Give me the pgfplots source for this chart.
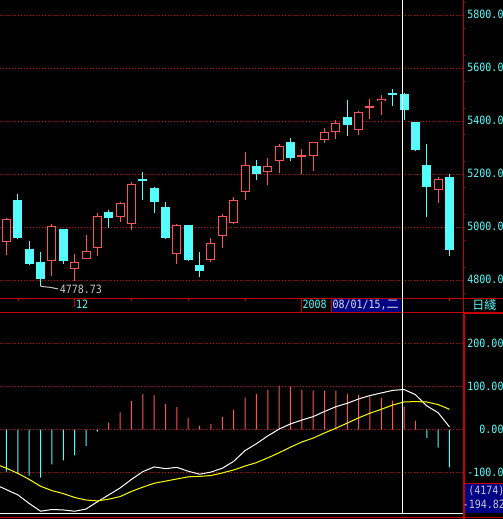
\documentclass[border=0pt]{standalone}
\usepackage{pgfplots}
\pgfplotsset{compat=1.18}
\usepackage{pgfplotstable}
\usepackage{fontspec}
\newfontfamily\monof{DejaVu Sans Mono}[FakeStretch=0.875]
\newfontfamily\cjkf{Noto Sans CJK TC}
\newcommand\mf{\monof\fontsize{11.4bp}{12bp}\selectfont}
\newcommand\cf{\cjkf\fontsize{12bp}{14bp}\selectfont}
\definecolor{cy}{RGB}{84,252,252}
\definecolor{rd}{RGB}{255,84,84}
\definecolor{gr}{RGB}{200,0,0}
\definecolor{gd}{RGB}{235,0,0}
\definecolor{nv}{RGB}{0,0,132}
\definecolor{lg}{RGB}{200,200,200}
\definecolor{yl}{RGB}{255,255,0}

% rising (red, hollow) candles
\pgfplotstableread{
i o h l c
0 4946 5034 4896 5031
4 4872 5013 4816 5004
6 4842 4899 4800 4868
7 4883 4971 4883 4913
8 4921 5053 4893 5042
10 5040 5096 5021 5092
11 5014 5171 4991 5164
15 4901 5013 4863 5008
18 4878 4960 4870 4940
19 4969 5050 4923 5042
20 5018 5115 5014 5102
21 5135 5284 5104 5234
23 5210 5262 5161 5234
24 5252 5317 5206 5309
26 5268 5296 5203 5273
27 5270 5321 5214 5321
28 5332 5375 5320 5362
29 5362 5405 5335 5393
31 5369 5439 5350 5434
32 5452 5484 5410 5457
33 5476 5499 5424 5484
38 5141 5189 5092 5182
}\up
% falling (cyan, filled) candles
\pgfplotstableread{
i o h l c
1 5103 5126 4955 4961
2 4918 4948 4858 4863
3 4869 4907 4778.73 4806
5 4994 4994 4863 4874
9 5058 5065 4999 5037
12 5182 5209 5103 5176
13 5148 5152 5055 5097
14 5077 5096 4957 4961
16 5008 5008 4874 4878
17 4857 4907 4814 4836
22 5234 5254 5179 5203
25 5322 5337 5252 5263
30 5416 5481 5346 5387
34 5506 5522 5458 5499
35 5503 5507 5405 5444
36 5398 5398 5289 5292
37 5237 5315 5039 5152
39 5191 5201 4892 4914
}\down
% MACD lines
\pgfplotstableread{
i dif dea
-1 -128 -80
0 -140 -90
1 -152 -102
2 -172 -116
3 -190 -132
4 -186 -142
5 -187 -149
6 -190 -158
7 -185 -164
8 -168 -166
9 -152 -162
10 -136 -156
11 -116 -144
12 -98 -134
13 -87 -125
14 -91 -120
15 -88 -115
16 -97 -110
17 -104 -109
18 -99 -107
19 -90 -101
20 -74 -94
21 -49 -85
22 -33 -77
23 -15 -66
24 1 -54
25 13 -41
26 22 -29
27 30 -20
28 42 -8
29 53 3
30 61 15
31 71 27
32 79 38
33 85 47
34 91 57
35 93 64
36 81 65
37 55 64
38 39 58
39 6 47
}\macd
\pgfplotstableread{
i v
9 16
10 40
11 66
12 83
13 80
14 59
15 52
16 27
17 9
18 13
19 29
20 46
21 74
22 83
23 93
24 102
25 100
26 93
27 90.5
28 90.5
29 90.5
30 83
31 81
32 77
33 73
34 67
35 53
36 20
}\hpos
\pgfplotstableread{
i v
0 -98
1 -101
2 -107
3 -112
4 -81
5 -72
6 -60
7 -38
8 -5
37 -20
38 -42
39 -88
}\hneg

\pgfplotsset{
  cndl/.style 2 args={draw=none, mark=none, forget plot,
    error bars/.cd, y dir=both, y explicit, error mark=none,
    error bar style={draw=#1, line width=#2, line cap=butt}},
  panel/.style={scale only axis, width=463bp,
    xmin=-0.5722, xmax=40.19,
    axis line style={draw=none}, xtick=\empty,
    ytick pos=right, yticklabel pos=right,
    major tick length=0pt, minor tick length=2bp, tick align=outside,
    tick style={gr, line width=1bp},
    ymajorgrids, grid style={gd, line width=1bp, dash pattern=on 1bp off 2bp},
    yticklabel style={font=\mf, text=cy, anchor=base east, inner sep=0pt, xshift=40.7bp}},
}

\begin{document}
\begin{tikzpicture}
\useasboundingbox (0bp,0bp) rectangle (503bp,519bp);
\fill[black] (0bp,0bp) rectangle (503bp,519bp);

% ---------- price panel ----------
\begin{axis}[panel, at={(0bp,220.5bp)}, anchor=south west,
  height=298.5bp, ymin=4732.08, ymax=5858.49,
  ytick={4800,5000,5200,5400,5600,5800},
  yticklabels={4800.0,5000.0,5200.0,5400.0,5600.0,5800.0},
  minor ytick={4750,4850,...,5850},
  yticklabel style={yshift=-3bp}]
\addplot[cndl={rd}{1bp}] table[x=i, y expr={(\thisrow{h}+\thisrow{l})/2}, y error expr={(\thisrow{h}-\thisrow{l})/2}] {\up};
\addplot[cndl={rd}{9bp}] table[x=i, y expr={(\thisrow{o}+\thisrow{c})/2}, y error expr={max(abs(\thisrow{c}-\thisrow{o})/2,1.9)}] {\up};
\addplot[cndl={black}{7bp}] table[x=i, y expr={(\thisrow{o}+\thisrow{c})/2}, y error expr={max(abs(\thisrow{c}-\thisrow{o})/2-3.77,0)}] {\up};
\addplot[cndl={cy}{1bp}] table[x=i, y expr={(\thisrow{h}+\thisrow{l})/2}, y error expr={(\thisrow{h}-\thisrow{l})/2}] {\down};
\addplot[cndl={cy}{9bp}] table[x=i, y expr={(\thisrow{o}+\thisrow{c})/2}, y error expr={max(abs(\thisrow{c}-\thisrow{o})/2,1.9)}] {\down};
\end{axis}

% ---------- MACD panel ----------
\begin{axis}[panel, at={(0bp,5.5bp)}, anchor=south west,
  height=201bp, ymin=-195.3, ymax=272.1,
  ytick={-100,0,100,200},
  yticklabels={-100.0,0.00,100.00,200.00},
  minor ytick={-150,-50,50,150,250},
  yticklabel style={yshift=-3.8bp}]
\addplot[ybar, bar width=1bp, bar shift=0pt, fill=rd, draw=none, forget plot] table[x=i, y=v] {\hpos};
\addplot[ybar, bar width=1bp, bar shift=0pt, fill=cy, draw=none, forget plot] table[x=i, y=v] {\hneg};
\addplot[white, line width=1bp, mark=none] table[x=i, y=dif] {\macd};
\addplot[yl, line width=1bp, mark=none] table[x=i, y=dea] {\macd};
\end{axis}

% ---------- frame, date strip, cursor, labels ----------
\begin{scope}[x=1bp, y=1bp]
\draw[gr, line width=1bp] (0,220.5) -- (503,220.5);
\draw[gr, line width=1bp] (0,206.5) -- (503,206.5);
\draw[gr, line width=1bp] (463,205.5) -- (503,205.5);
\draw[gr, line width=1bp] (0,1.5) -- (503,1.5);
\draw[gr, line width=1bp] (463.5,206.5) -- (463.5,519);
% strip ticks
\foreach \xx in {18.5,131.5,188.5,245.5,449.5}
  \draw[gr, line width=1bp] (\xx,220.5) -- (\xx,217.5);
\draw[gr, line width=1bp] (74.5,220.5) -- (74.5,211.5);
\draw[gr, line width=1bp] (301.5,220.5) -- (301.5,206.5);
\draw[gr, line width=1bp] (331.5,220.5) -- (331.5,206.5);
\fill[nv] (332,207) rectangle (401,220);
\node[anchor=base west, inner sep=0pt, text=cy] at (76,210.3) {\mf 12};
\node[anchor=base west, inner sep=0pt, text=cy] at (302.5,210.3) {\mf 2008};
\node[anchor=base west, inner sep=0pt, text={rgb,255:red,224;green,224;blue,224}] at (332.3,210.3) {\mf 08/01/15,\cf 二};
\node[anchor=base west, inner sep=0pt, text=cy] at (472.2,209.7) {\cf 日綫};
% low annotation
\draw[lg, line width=1bp] (40.5,233.5) -- (40.5,233) -- (43.3,232.3) -- (50,231.7) -- (55,230.7) -- (58.3,230);
\node[anchor=base west, inner sep=0pt, text=lg] at (59.6,226) {\mf 4778.73};
% cursor
\draw[white, line width=1bp] (402.5,5.5) -- (402.5,519);
\draw[white, line width=1bp] (0,5.5) -- (463,5.5);
% value box
\fill[nv] (465,6) rectangle (503,35);
\draw[gr, line width=1bp] (463,35.5) -- (503,35.5);
\draw[gr, line width=2bp] (464,0) -- (464,206.5);
\node[anchor=base west, inner sep=0pt, text=lg] at (468.2,24.7) {\mf (4174)};
\node[anchor=base west, inner sep=0pt, text=lg] at (462.6,10.7) {\mf -194.82};
\end{scope}
\end{tikzpicture}
\end{document}
